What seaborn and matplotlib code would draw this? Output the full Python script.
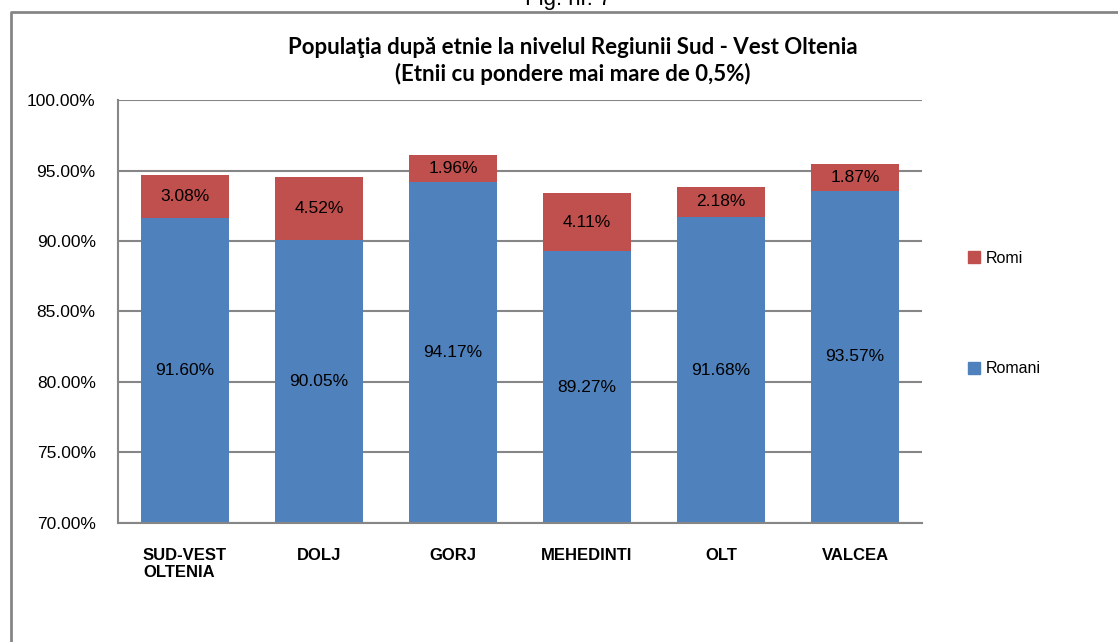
import matplotlib
matplotlib.use("Agg")
import matplotlib.pyplot as plt
import seaborn as sns
import pandas as pd
from matplotlib.lines import Line2D
from matplotlib.patches import Patch
from matplotlib.ticker import FuncFormatter

categories = ["SUD-VEST\nOLTENIA", "DOLJ", "GORJ", "MEHEDINTI", "OLT", "VALCEA"]
romani = [91.60, 90.05, 94.17, 89.27, 91.68, 93.57]
romi = [3.08, 4.52, 1.96, 4.11, 2.18, 1.87]

df = pd.DataFrame({"judet": categories, "Romani": romani, "Romi": romi})
df["total"] = df["Romani"] + df["Romi"]

blue = "#4f81bd"
red = "#c0504d"
grid = "#868686"

sns.set_style("white")
plt.rcParams["font.family"] = ["Liberation Sans", "DejaVu Sans"]
plt.rcParams["text.color"] = "black"
plt.rcParams["xtick.color"] = "black"
plt.rcParams["ytick.color"] = "black"

fig = plt.figure(figsize=(11.18, 6.42), dpi=100)
ax = fig.add_axes([0.1055, 0.1854, 0.7192, 0.6588])

sns.barplot(data=df, x="judet", y="total", color=red, width=0.65, saturation=1,
            linewidth=0, ax=ax)
sns.barplot(data=df, x="judet", y="Romani", color=blue, width=0.65, saturation=1,
            linewidth=0, ax=ax)

ax.set_ylim(70, 100)
ax.set_yticks(range(70, 101, 5))
ax.yaxis.set_major_formatter(FuncFormatter(lambda v, p: f"{v:.2f}%"))
ax.grid(axis="y", color=grid, linewidth=1.5)
ax.set_axisbelow(True)
ax.set_xlabel("")
ax.set_ylabel("")
for s in ["top", "right"]:
    ax.spines[s].set_visible(False)
for s in ["left", "bottom"]:
    ax.spines[s].set_color(grid)
    ax.spines[s].set_linewidth(1.5)
ax.tick_params(axis="y", length=0, pad=16, labelsize=12.5)
ax.tick_params(axis="x", length=0, pad=18, labelsize=12)
for lbl in ax.get_xticklabels():
    lbl.set_fontweight("bold")
    lbl.set_multialignment("left")
    lbl.set_verticalalignment("top")

for i, (r, m) in enumerate(zip(romani, romi)):
    ax.text(i, (70 + r) / 2, f"{r:.2f}%", ha="center", va="center", fontsize=12.5)
    ax.text(i, r + m / 2, f"{m:.2f}%", ha="center", va="center", fontsize=12.5)

handles = [Patch(color=red, label="Romi"), Patch(color=blue, label="Romani")]
fig.legend(handles=handles, loc="center left", bbox_to_anchor=(0.853, 0.5117),
           frameon=False, fontsize=11.5, labelspacing=6.0, handlelength=0.75,
           handleheight=0.75, handletextpad=0.35)

fig.text(0.512, 1 - 61 / 642,
         "Populaţia după etnie la nivelul Regiunii Sud - Vest Oltenia\n(Etnii cu pondere mai mare de 0,5%)",
         ha="center", va="center", fontsize=16, fontweight="bold",
         family=["Lato", "DejaVu Sans"], linespacing=1.3)
fig.text(0.508, 1 - 5 / 642, "Fig. nr. 7", ha="center", va="baseline", fontsize=16)

fig.add_artist(Line2D([11 / 1118, 11 / 1118, 1.0], [0.0, 1 - 12 / 642, 1 - 12 / 642],
                      transform=fig.transFigure, color="#868686", linewidth=2))

fig.savefig("out.png", dpi=100, facecolor="white")
